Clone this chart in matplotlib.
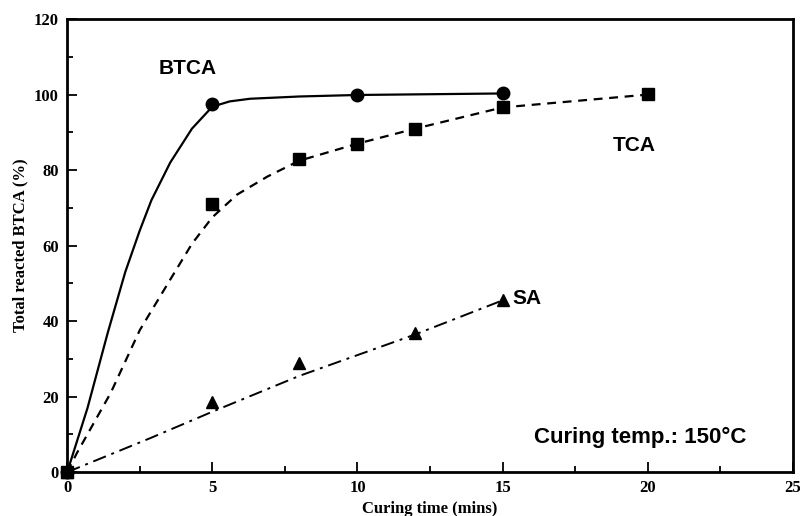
import matplotlib
matplotlib.use("Agg")
import matplotlib.pyplot as plt
from matplotlib.ticker import MultipleLocator

# measured points
btca_x = [0, 5, 10, 15]
btca_y = [0, 97.5, 100, 100.5]
tca_x = [0, 5, 8, 10, 12, 15, 20]
tca_y = [0, 71, 83, 87, 91, 96.8, 100.2]
sa_x = [0, 5, 8, 12, 15]
sa_y = [0, 18.5, 28.8, 36.8, 45.5]

# fitted curves
btca_fit_x = [0, 0.7, 1.4, 2.0, 2.5, 2.9, 3.55, 4.3, 5, 5.6, 6.3, 8, 10, 15]
btca_fit_y = [0, 17, 37, 53, 64, 72, 82, 91, 96.8, 98.2, 98.9, 99.5, 99.9, 100.3]
tca_fit_x = [0, 0.33, 1.5, 2.5, 3.55, 4.3, 5, 5.85, 6.9, 8, 10, 12, 15, 20]
tca_fit_y = [0, 5, 21, 37.6, 51, 60.5, 67.5, 73.5, 78.3, 82.5, 87, 91, 96.6, 100]
sa_fit_x = [0, 2.86, 5, 8, 12, 15]
sa_fit_y = [0, 9, 16, 25.5, 36.5, 45.5]

serif = ["Liberation Serif", "DejaVu Serif"]
sans = ["Liberation Sans", "DejaVu Sans"]

fig = plt.figure(figsize=(8, 5.16), dpi=100)
ax = fig.add_axes([0.084, 0.085, 0.907, 0.878])

ax.plot(btca_fit_x, btca_fit_y, "-", color="black", lw=1.6)
ax.plot(tca_fit_x, tca_fit_y, color="black", lw=1.6, dashes=(4, 3))
ax.plot(sa_fit_x, sa_fit_y, color="black", lw=1.4, dashes=(7, 3, 1.5, 3))

ax.plot(btca_x, btca_y, "o", color="black", ms=9, clip_on=False)
ax.plot(tca_x, tca_y, "s", color="black", ms=8, clip_on=False)
ax.plot(sa_x, sa_y, "^", color="black", ms=9, clip_on=False)

ax.set_xlim(0, 25)
ax.set_ylim(0, 120)
ax.xaxis.set_major_locator(MultipleLocator(5))
ax.xaxis.set_minor_locator(MultipleLocator(2.5))
ax.yaxis.set_major_locator(MultipleLocator(20))
ax.yaxis.set_minor_locator(MultipleLocator(10))
ax.tick_params(which="both", direction="in", width=1.3)
ax.tick_params(which="major", length=7, labelsize=12, pad=6)
ax.tick_params(which="minor", length=4)
for s in ax.spines.values():
    s.set_linewidth(2)
for lab in ax.get_xticklabels() + ax.get_yticklabels():
    lab.set_family(serif)
    lab.set_fontweight("bold")

ax.set_xlabel("Curing time (mins)", family=serif, fontweight="bold", fontsize=12, labelpad=3)
ax.set_ylabel("Total reacted BTCA (%)", family=serif, fontweight="bold", fontsize=12, labelpad=4)

ax.text(4.15, 107, "BTCA", family=sans, fontsize=15, fontweight="bold", ha="center", va="center")
ax.text(19.55, 86.5, "TCA", family=sans, fontsize=15, fontweight="bold", ha="center", va="center")
ax.text(15.85, 46, "SA", family=sans, fontsize=15, fontweight="bold", ha="center", va="center")
ax.text(23.4, 9.3, "Curing temp.: 150°C", family=sans, fontsize=16, fontweight="bold",
        ha="right", va="center")

fig.savefig("out.png", dpi=100)
